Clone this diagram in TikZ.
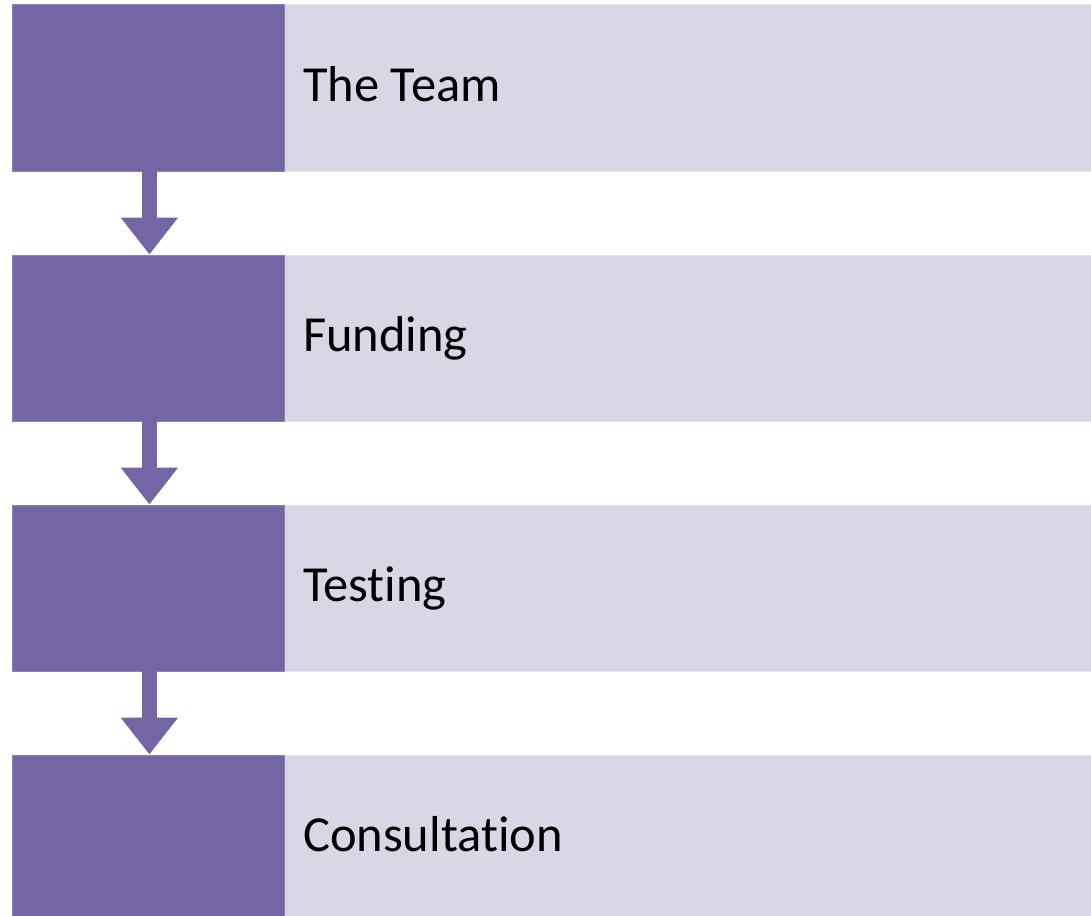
\documentclass[tikz,border=0pt]{standalone}
\usepackage{fontspec}
\setmainfont{Carlito}[Ligatures=NoCommon]
\usetikzlibrary{arrows.meta}
\definecolor{stepPurple}{RGB}{116,102,165}
\definecolor{stepEdge}{RGB}{140,128,184}
\definecolor{barLight}{RGB}{217,215,230}
\definecolor{barEdge}{RGB}{228,227,238}
\begin{document}
\begin{tikzpicture}[x=1pt,y=-1pt,
  purplebox/.style={fill=stepPurple,draw=stepEdge,line width=0.8pt,minimum width=272pt,minimum height=166pt,inner sep=0pt,anchor=north west},
  lightbar/.style={fill=barLight,draw=barEdge,line width=0.8pt,minimum width=808pt,minimum height=166pt,inner sep=0pt,anchor=north west},
  label/.style={anchor=base west,font=\fontsize{50.5}{58}\selectfont,text=black,inner sep=0pt},
  flowarrow/.style={draw=stepPurple,line width=15pt,-{Triangle[width=55pt,length=37pt]}}]
\clip (0,0) rectangle (1091,915);
\fill[white] (0,0) rectangle (1091,915);
\foreach \i/\txt in {1/The Team,2/Funding,3/Testing,4/Consultation}{
  \pgfmathsetmacro{\yy}{4.5+250*(\i-1)}
  \node[lightbar] (b\i) at (284,\yy) {};
  \node[purplebox] (p\i) at (12,\yy) {};
  \node[label] (t\i) at (303,\yy+97.2) {\txt};
}
\draw[flowarrow] ([xshift=1pt]p1.south) -- ([xshift=1pt]p2.north);
\draw[flowarrow] ([xshift=1pt]p2.south) -- ([xshift=1pt]p3.north);
\draw[flowarrow] ([xshift=1pt]p3.south) -- ([xshift=1pt]p4.north);
\end{tikzpicture}
\end{document}
